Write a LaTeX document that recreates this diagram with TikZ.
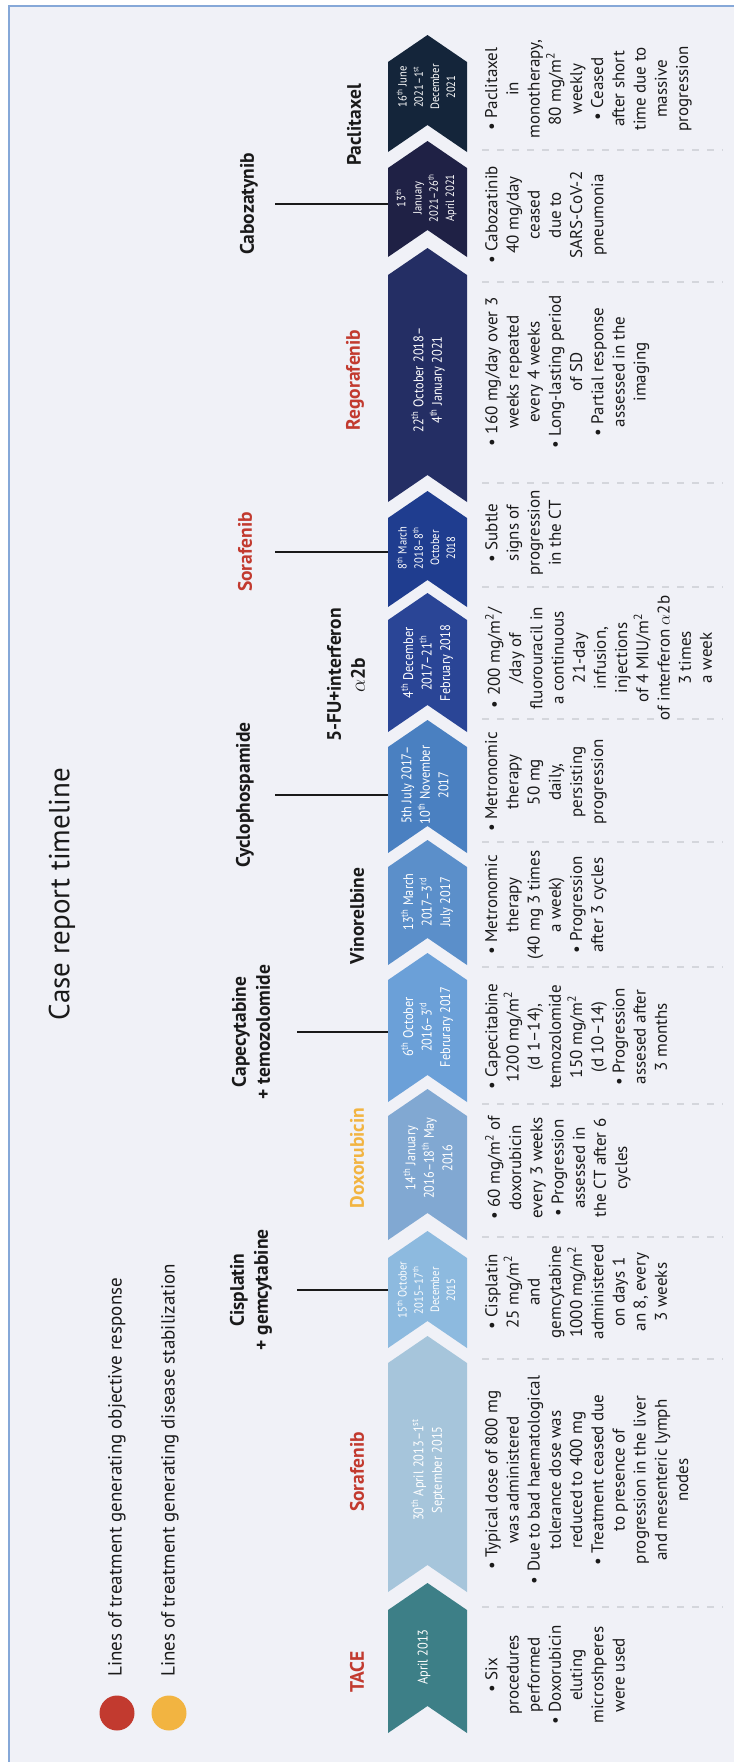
\documentclass[tikz,border=0pt]{standalone}
\usepackage{fontspec}
\setmainfont{PT Sans}
\newfontfamily\datefont[FakeStretch=0.88]{PT Sans}
\definecolor{bg}{HTML}{F0F1F7}
\definecolor{frame}{HTML}{86A8D8}
\definecolor{redl}{HTML}{C23A2F}
\definecolor{orangel}{HTML}{F2B441}
\definecolor{sepc}{HTML}{D4D6DC}
\definecolor{txt}{HTML}{1A1A1A}
\definecolor{cA}{HTML}{3D7F87}
\definecolor{cB}{HTML}{A6C5DB}
\definecolor{cC}{HTML}{8DBADF}
\definecolor{cD}{HTML}{81A8D2}
\definecolor{cE}{HTML}{6BA0D8}
\definecolor{cF}{HTML}{5B8FCA}
\definecolor{cG}{HTML}{4A80C1}
\definecolor{cH}{HTML}{2A4596}
\definecolor{cI}{HTML}{1F3D8F}
\definecolor{cJ}{HTML}{242E64}
\definecolor{cK}{HTML}{1F2145}
\definecolor{cL}{HTML}{14253A}
\tikzset{
  block/.style={rotate=90, anchor=north, align=center, inner sep=0pt, text=txt,
    font=\fontsize{17}{21.2}\selectfont},
  datebox/.style={rotate=90, align=center, inner sep=0pt, text=white,
    font=\datefont\fontsize{14}{18.5}\selectfont},
  datesmall/.style={datebox, font=\datefont\fontsize{12}{16.2}\selectfont},
  drug/.style={rotate=90, align=center, inner sep=0pt, text=txt,
    font=\bfseries\fontsize{19.5}{24}\selectfont},
  conn/.style={line width=1.4pt, draw=txt},
  sepline/.style={dash pattern=on 7pt off 8pt, line width=1.3pt, draw=sepc},
}
% chevron: name, bottom corner y, top corner y, colour
\newcommand\chevron[4]{%
  \fill[#4] (388,#2) -- (427.5,{#2-27}) -- (467,#2) -- (467,#3)
    -- (427.5,{#3-27}) -- (388,#3) -- cycle;
  \coordinate (#1) at (388,{(#2+#3)/2});
}
\begin{document}
\begin{tikzpicture}[x=1pt,y=-1pt]
\useasboundingbox (0,0) rectangle (734,1762);
\fill[white] (0,0) rectangle (734,1762);
\fill[bg] (9,6) rectangle (734,1762);
\draw[frame, line width=1.5pt] (9,1762) -- (9,6) -- (734,6);

% title and legend
\node[rotate=90, font=\fontsize{29}{32}\selectfont, text=txt] (title) at (62,894) {Case report timeline};
\fill[redl] (117,1713) circle (17.5pt);
\fill[orangel] (169,1713) circle (17.5pt);
\node[rotate=90, anchor=west, inner sep=0pt, text=txt, font=\fontsize{19}{22}\selectfont] (leg1) at (117,1677) {Lines of treatment generating objective response};
\node[rotate=90, anchor=west, inner sep=0pt, text=txt, font=\fontsize{19}{22}\selectfont] (leg2) at (170,1677) {Lines of treatment generating disease stabilization};

% chevrons of the timeline
\chevron{cTACE}{1733}{1610}{cA}
\chevron{cSorA}{1592}{1363}{cB}
\chevron{cCisX}{1348}{1258}{cC}
\chevron{cDoxX}{1240}{1116}{cD}
\chevron{cCapX}{1102}{980}{cE}
\chevron{cVinX}{965}{867}{cF}
\chevron{cCycX}{853}{747}{cG}
\chevron{cFUX}{732}{620}{cH}
\chevron{cSorB}{607}{518}{cI}
\chevron{cRegX}{502}{275}{cJ}
\chevron{cCabX}{257}{168}{cK}
\chevron{cPacX}{152}{62}{cL}

% dates inside chevrons
\node[datebox] (dTACE) at (424,1657) {April 2013};
\node[datebox] (dSorA) at (428,1470) {30\textsuperscript{th} April 2013–1\textsuperscript{st}\\September 2015};
\node[datesmall] (dCis) at (426,1290) {15\textsuperscript{th} October\\2015–17\textsuperscript{th}\\December\\2015};
\node[datebox] (dDox) at (428,1158) {14\textsuperscript{th} January\\2016–18\textsuperscript{th} May\\2016};
\node[datebox] (dCap) at (427,1027) {6\textsuperscript{th} October\\2016–3\textsuperscript{rd}\\Februrary 2017};
\node[datebox] (dVin) at (427,902) {13\textsuperscript{th} March\\2017–3\textsuperscript{rd}\\July 2017};
\node[datebox] (dCyc) at (425,785) {5th July 2017–\\10\textsuperscript{th} November\\2017};
\node[datebox] (dFU) at (427,663) {4\textsuperscript{th} December\\2017–21\textsuperscript{th}\\February 2018};
\node[datesmall] (dSorB) at (426,548) {8\textsuperscript{th} March\\2018–8\textsuperscript{th}\\October\\2018};
\node[datebox] (dReg) at (428,380) {22\textsuperscript{th} October 2018–\\4\textsuperscript{th} January 2021};
\node[datesmall] (dCab) at (426,198) {13\textsuperscript{th}\\January\\2021–26\textsuperscript{th}\\April 2021};
\node[datesmall] (dPac) at (426,87) {16\textsuperscript{th} June\\2021–1\textsuperscript{st}\\December\\2021};

% drug names
\node[drug, text=redl] (lTACE) at (357,1672) {TACE};
\node[drug, text=redl] (lSorA) at (357,1472) {Sorafenib};
\node[drug] (lCis) at (251,1290) {Cisplatin\\+ gemcytabine};
\node[drug, text=orangel] (lDox) at (357,1158) {Doxorubicin};
\node[drug] (lCap) at (251,1032) {Capecytabine\\+ temozolomide};
\node[drug] (lVin) at (357,916) {Vinorelbine};
\node[drug] (lCyc) at (245,795) {Cyclophospamide};
\node[drug] (lFU) at (346,675) {5-FU+interferon\\{\mdseries$\alpha$}2b};
\node[drug, text=redl] (lSorB) at (245,552) {Sorafenib};
\node[drug, text=redl] (lReg) at (355,380) {Regorafenib};
\node[drug] (lCab) at (249,204) {Cabozatynib};
\node[drug] (lPac) at (354,125) {Paclitaxel};

% connectors from the upper labels down to their chevrons
\coordinate (kCis) at (297,1290); \coordinate (eCis) at (cCisX |- kCis);
\coordinate (kCap) at (297,1032); \coordinate (eCap) at (cCapX |- kCap);
\coordinate (kCyc) at (275,795);  \coordinate (eCyc) at (cCycX |- kCyc);
\coordinate (kSor) at (275,552);  \coordinate (eSor) at (cSorB |- kSor);
\coordinate (kCab) at (275,204);  \coordinate (eCab) at (cCabX |- kCab);
\draw[conn] (kCis) -- (eCis);
\draw[conn] (kCap) -- (eCap);
\draw[conn] (kCyc) -- (eCyc);
\draw[conn] (kSor) -- (eSor);
\draw[conn] (kCab) -- (eCab);

% dashed separators between the description columns
\foreach \yy in {1607,1359,1237,1104,967,842,719,587,483,282,150}
  \draw[sepline] (482,\yy) -- (723,\yy);

% descriptions
\node[block] (tTACE) at (485,1675) {\textbullet\ Six\\procedures\\performed\\\textbullet\ Doxorubicin\\eluting\\microshperes\\were used};
\node[block] (tSorA) at (485,1480) {\textbullet\ Typical dose of 800 mg\\was administered\\\textbullet\ Due to bad haematological\\tolerance dose was\\reduced to 400 mg\\\textbullet\ Treatment ceased due\\to presence of\\progression in the liver\\and mesenteric lymph\\nodes};
\node[block] (tCis) at (485,1292) {\textbullet\ Cisplatin\\25 mg/m\textsuperscript{2}\\and\\gemcytabine\\1000 mg/m\textsuperscript{2}\\administered\\on days 1\\an 8, every\\3 weeks};
\node[block] (tDox) at (485,1168) {\textbullet\ 60 mg/m\textsuperscript{2} of\\doxorubicin\\every 3 weeks\\\textbullet\ Progression\\assessed in\\the CT after 6\\cycles};
\node[block] (tCap) at (485,1037) {\textbullet\ Capecitabine\\1200 mg/m\textsuperscript{2}\\(d 1–14),\\temozolomide\\150 mg/m\textsuperscript{2}\\(d 10–14)\\\textbullet\ Progression\\assesed after\\3 months};
\node[block] (tVin) at (485,905) {\textbullet\ Metronomic\\therapy\\(40 mg 3 times\\a week)\\\textbullet\ Progression\\after 3 cycles};
\node[block] (tCyc) at (485,782) {\textbullet\ Metronomic\\therapy\\50 mg\\daily,\\persisting\\progression};
\node[block] (tFU) at (485,658) {\textbullet\ 200 mg/m\textsuperscript{2}/\\/day of\\fluorouracil in\\a continuous\\21-day\\infusion,\\injections\\of 4 MIU/m\textsuperscript{2}\\of interferon $\alpha$2b\\3 times\\a week};
\node[block] (tSorB) at (485,533) {\textbullet\ Subtle\\signs of\\progression\\in the CT};
\node[block] (tReg) at (485,372) {\textbullet\ 160 mg/day over 3\\weeks repeated\\every 4 weeks\\\textbullet\ Long-lasting period\\of SD\\\textbullet\ Partial response\\assessed in the\\imaging};
\node[block] (tCab) at (485,215) {\textbullet\ Cabozatinib\\40 mg/day\\ceased\\due to\\SARS-CoV-2\\pneumonia};
\node[block] (tPac) at (485,89) {\textbullet\ Paclitaxel\\in\\monotherapy,\\80 mg/m\textsuperscript{2}\\weekly\\\textbullet\ Ceased\\after short\\time due to\\massive\\progression};
\end{tikzpicture}
\end{document}
